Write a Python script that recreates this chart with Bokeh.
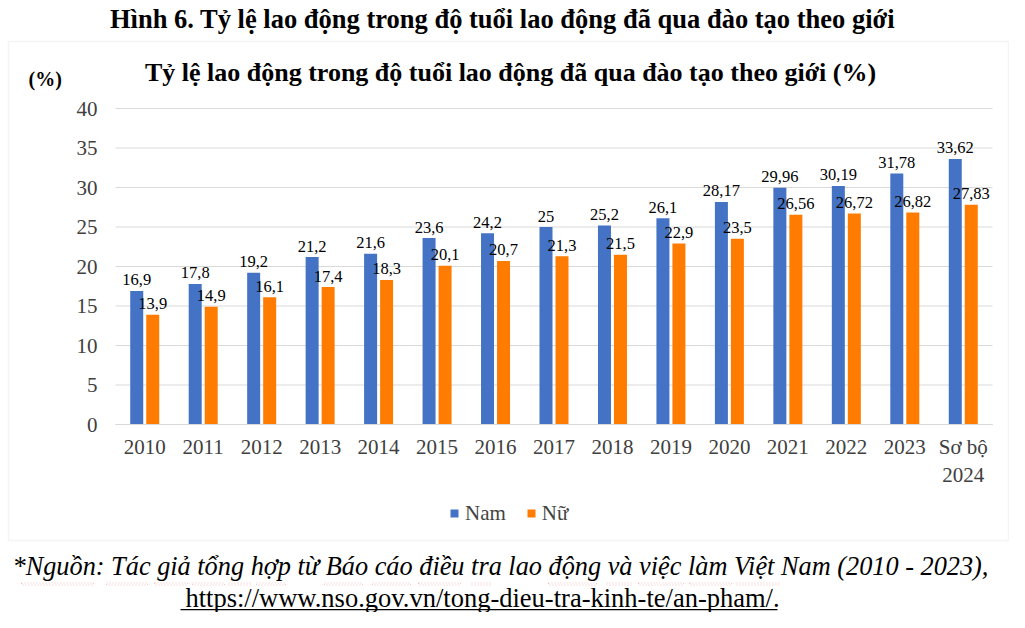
from bokeh.plotting import figure
from bokeh.models import (Range1d, Label, Legend, LegendItem, BoxAnnotation,
                          ColumnDataSource, FixedTicker)
from bokeh.transform import dodge
from bokeh.core.properties import value
from bokeh.embed import file_html
from bokeh.resources import INLINE

# ---- data ----
categories = ["2010", "2011", "2012", "2013", "2014", "2015", "2016", "2017",
              "2018", "2019", "2020", "2021", "2022", "2023", "Sơ bộ\n2024"]
nam = [16.9, 17.8, 19.2, 21.2, 21.6, 23.6, 24.2, 25, 25.2, 26.1, 28.17, 29.96,
       30.19, 31.78, 33.62]
nu = [13.9, 14.9, 16.1, 17.4, 18.3, 20.1, 20.7, 21.3, 21.5, 22.9, 23.5, 26.56,
      26.72, 26.82, 27.83]
y_ticks = [0, 5, 10, 15, 20, 25, 30, 35, 40]
series_names = ["Nam", "Nữ"]

FONT = "Liberation Serif"
BLUE = "#4472C4"
ORANGE = "#FF7C00"
GRID = "#d9d9d9"

idx = list(range(len(categories)))
src = ColumnDataSource(dict(
    i=idx, nam=nam, nu=nu,
    nam_lbl=[f"{v:g}".replace(".", ",") for v in nam],
    nu_lbl=[f"{v:g}".replace(".", ",") for v in nu],
))

W, H = 1009, 612
# pixel geometry of the plotting area inside the canvas
PL, PR, PT, PB = 115, 992, 108, 424
step = (PR - PL) / len(categories)
ypx = (PB - PT) / (y_ticks[-1] - y_ticks[0])
x_start = -0.5 - PL / step
x_end = x_start + W / step
y_start = -(H - PB) / ypx
y_end = y_start + H / ypx

p = figure(x_range=Range1d(x_start, x_end), y_range=Range1d(y_start, y_end),
           width=W, height=H, output_backend="svg", toolbar_location=None,
           min_border=0)
p.outline_line_color = None
p.background_fill_color = "white"
p.border_fill_color = "white"
p.xgrid.visible = False
p.ygrid.visible = False

lo, hi = -0.5, len(categories) - 0.5

# horizontal gridlines (from the tick list)
p.segment(x0=[lo] * len(y_ticks), x1=[hi] * len(y_ticks), y0=y_ticks, y1=y_ticks,
          line_color=GRID, line_width=1)

OFF, BW = 8 / step, 13 / step
r_nam = p.vbar(x=dodge("i", -OFF), top="nam", width=BW, source=src,
               fill_color=BLUE, line_color=None)
r_nu = p.vbar(x=dodge("i", OFF), top="nu", width=BW, source=src,
              fill_color=ORANGE, line_color=None)

for col, lbl, off in (("nam", "nam_lbl", -OFF), ("nu", "nu_lbl", OFF)):
    p.text(x=dodge("i", off), y=col, text=lbl, source=src,
           text_align="center", text_baseline="alphabetic", y_offset=-11,
           text_font=value(FONT), text_font_size="16.5px", text_color="black")

# axes, fixed at the edges of the plotting area
p.yaxis.fixed_location = lo
p.yaxis.bounds = (y_ticks[0], y_ticks[-1])
p.yaxis.ticker = FixedTicker(ticks=y_ticks)
p.yaxis.axis_line_color = None
p.yaxis.major_tick_line_color = None
p.yaxis.minor_tick_line_color = None
p.yaxis.major_label_standoff = 12
p.yaxis.major_label_text_font = FONT
p.yaxis.major_label_text_font_size = "21px"
p.yaxis.major_label_text_color = "#404040"

p.xaxis.fixed_location = 0
p.xaxis.bounds = (lo, hi)
p.xaxis.ticker = FixedTicker(ticks=idx)
p.xaxis.major_label_overrides = {i: c for i, c in zip(idx, categories)}
p.xaxis.axis_line_color = GRID
p.xaxis.major_tick_line_color = None
p.xaxis.minor_tick_line_color = None
p.xaxis.major_label_standoff = 4
p.xaxis.major_label_text_font = FONT
p.xaxis.major_label_text_font_size = "21px"
p.xaxis.major_label_text_color = "#404040"


def lab(text, X, Y, size, style="normal", align="center", color="black"):
    p.add_layout(Label(x=X, y=H - Y, x_units="screen", y_units="screen",
                       text=text, text_font=FONT, text_font_size=size,
                       text_font_style=style, text_align=align,
                       text_baseline="middle", text_color=color))


def box(l, r, t, b, **kw):
    p.add_layout(BoxAnnotation(left=l, right=r, top=H - t, bottom=H - b,
                               left_units="screen", right_units="screen",
                               top_units="screen", bottom_units="screen", **kw))


# chart box border
box(8, 1008, 41, 540, fill_alpha=0, line_color=GRID, line_width=1.5)

lab("Hình 6. Tỷ lệ lao động trong độ tuổi lao động đã qua đào tạo theo giới",
    502, 18, "26.5px", "bold")
lab("Tỷ lệ lao động trong độ tuổi lao động đã qua đào tạo theo giới (%)",
    510, 72, "26px", "bold")
lab("(%)", 28, 78, "20px", "bold", align="left")

lab("*Nguồn: Tác giả tổng hợp từ Báo cáo điều tra lao động và việc làm Việt Nam (2010 - 2023),",
    12, 566, "26.3px", "italic", align="left")
lab("https://www.nso.gov.vn/tong-dieu-tra-kinh-te/an-pham/.", 482, 597, "26.5px")
box(180, 777, 608.6, 609.8, fill_color="black", fill_alpha=1, line_color=None)

# spell-check style red wavy underlines of the source document
for l, r in [(21, 93), (106, 147), (154, 187), (192, 224), (228, 250), (256, 285),
             (324, 362), (372, 410), (418, 460), (471, 490), (548, 596),
             (606, 631), (638, 683), (689, 731), (736, 779)]:
    box(l, r, 582.5, 584.5, fill_alpha=0, line_color="#e03c3c", line_width=1,
        line_dash="1 2")

legend = Legend(items=[LegendItem(label=series_names[0], renderers=[r_nam]),
                       LegendItem(label=series_names[1], renderers=[r_nu])],
                orientation="horizontal", location=(449, H - 525.5),
                glyph_width=10, glyph_height=10, label_standoff=6, spacing=20,
                padding=0, margin=0, border_line_color=None,
                background_fill_alpha=0, label_text_font=FONT,
                label_text_font_size="21px", label_height=20)
p.add_layout(legend, "center")

open("out.html", "w").write(file_html(p, INLINE))
